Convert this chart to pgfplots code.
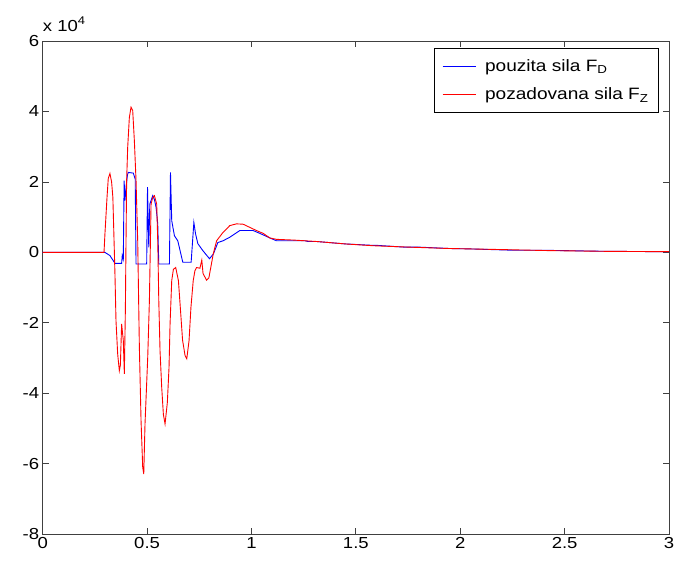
\documentclass[border=0pt]{standalone}
\usepackage{pgfplots}
\pgfplotsset{compat=1.18}
\usepackage{fontspec}
\setmainfont{Liberation Sans}[FakeStretch=1.16]
\definecolor{framegray}{RGB}{64,64,64}

\begin{document}
\begin{tikzpicture}
\begin{axis}[
    scale only axis,
    width=626bp, height=493bp,
    xmin=0, xmax=3, ymin=-8, ymax=6,
    xtick={0,0.5,...,3}, ytick={-8,-6,...,6},
    tick align=inside, xtick pos=both, ytick pos=both,
    major tick length=6bp,
    every tick/.style={framegray, line width=0.8pt},
    axis line style={framegray, line width=0.9pt},
    ticklabel style={font=\fontsize{16}{18}\selectfont},
    /pgf/number format/assume math mode=true,
    xticklabel style={/pgf/number format/fixed},
    legend style={at={(0.984,0.986)}, anchor=north east, draw=black,
        line width=0.8pt, font=\fontsize{16.5}{19}\selectfont,
        inner xsep=8bp, inner ysep=9bp, row sep=11bp,
        /tikz/every odd column/.append style={column sep=7bp}},
    legend cell align=left,
    legend image code/.code={\draw[#1] (0bp,0bp) -- (33bp,0bp);},
]
\addplot[blue, line width=0.9pt] coordinates {
(0,0) (0.298,0) (0.322,-0.09) (0.346,-0.31) (0.378,-0.31) (0.381,-0.09)
(0.386,-0.20) (0.390,2.04) (0.394,1.47) (0.400,1.90) (0.406,2.20) (0.410,2.27)
(0.434,2.25) (0.443,2.08) (0.447,-0.33) (0.498,-0.33) (0.502,1.85) (0.508,0.14)
(0.513,1.37) (0.527,1.61) (0.535,1.50) (0.543,1.28) (0.551,0.81) (0.556,-0.33)
(0.607,-0.33) (0.612,2.27) (0.618,0.90) (0.631,0.47) (0.647,0.33) (0.658,0.05)
(0.671,-0.28) (0.711,-0.28) (0.724,0.85) (0.732,0.53) (0.743,0.25) (0.767,0.05)
(0.799,-0.18) (0.818,-0.04) (0.839,0.28) (0.864,0.33) (0.896,0.43) (0.944,0.62)
(1.008,0.62) (1.040,0.54) (1.088,0.41) (1.12,0.33) (1.256,0.33) (1.27,0.31)
(1.31,0.31) (1.45,0.24) (1.58,0.20) (1.60,0.20) (1.73,0.15) (1.80,0.15)
(1.95,0.11) (2.04,0.10) (2.26,0.06) (2.40,0.06) (2.70,0.03) (3.00,0.02)
};
\addlegendentry{pouzita sila F\textsubscript{D}}
\addplot[red, line width=0.9pt] coordinates {
(0,0) (0.2936,0) (0.298,0.52) (0.308,1.56) (0.314,2.10) (0.322,2.24)
(0.330,2.00) (0.336,1.56) (0.343,0.05) (0.346,-0.61) (0.351,-1.94) (0.359,-2.88)
(0.367,-3.36) (0.372,-3.20) (0.378,-2.03) (0.386,-2.50) (0.391,-3.45) (0.396,-1.60)
(0.399,0.33) (0.402,2.04) (0.407,2.98) (0.415,3.83) (0.423,4.12) (0.431,4.03)
(0.439,3.17) (0.447,2.04) (0.455,0.33) (0.463,-2.70) (0.471,-4.78) (0.479,-6.10)
(0.484,-6.29) (0.490,-4.87) (0.503,-2.98) (0.511,-1.37) (0.516,0.33) (0.519,1.37)
(0.527,1.56) (0.535,1.61) (0.546,1.37) (0.551,0.33) (0.556,-1.37) (0.562,-2.80)
(0.570,-3.83) (0.578,-4.60) (0.586,-4.87) (0.597,-4.26) (0.605,-3.27) (0.610,-2.03)
(0.618,-0.80) (0.626,-0.48) (0.637,-0.43) (0.650,-0.80) (0.658,-1.47) (0.670,-2.50)
(0.682,-2.93) (0.690,-3.02) (0.701,-2.50) (0.710,-1.56) (0.721,-0.80) (0.729,-0.52)
(0.737,-0.43) (0.753,-0.45) (0.762,-0.22) (0.768,-0.60) (0.785,-0.79) (0.796,-0.72)
(0.805,-0.43) (0.817,-0.04) (0.833,0.33) (0.864,0.57) (0.896,0.76) (0.928,0.81)
(0.960,0.80) (0.992,0.71) (1.024,0.62) (1.056,0.54) (1.088,0.41) (1.12,0.37)
(1.20,0.35) (1.31,0.31) (1.45,0.24) (1.58,0.19) (1.75,0.15) (1.95,0.11)
(2.20,0.08) (2.43,0.05) (2.70,0.03) (3.00,0.02)
};
\addlegendentry{pozadovana sila F\textsubscript{Z}}
\end{axis}
\node[anchor=base west, inner sep=0pt, font=\fontsize{16}{18}\selectfont]
    at ([yshift=10bp]current axis.north west) {x 10\textsuperscript{4}};
\path (current axis.south west) ++(-42.7bp,-26bp) coordinate (bbA);
\path (current axis.north east) ++(14bp,41bp) coordinate (bbB);
\path (bbA) rectangle (bbB);
\end{tikzpicture}
\end{document}
